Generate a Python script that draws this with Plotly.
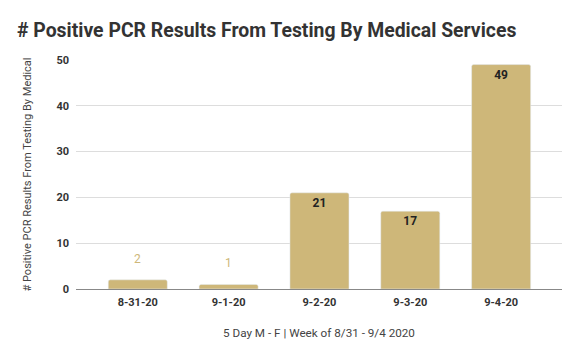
import plotly.graph_objects as go

dates = ["8-31-20", "9-1-20", "9-2-20", "9-3-20", "9-4-20"]
positives = [2, 1, 21, 17, 49]
y_ticks = [0, 10, 20, 30, 40, 50]

GOLD = "#CEB779"
INSIDE_MIN = 5

# page body has an 8px default margin; size the figure to fit the window
W, H = 572, 351

fig = go.Figure()
fig.add_trace(go.Bar(
    x=dates, y=positives, marker_color=GOLD, width=0.65,
    marker=dict(cornerradius=2),
    text=[str(v) if v >= INSIDE_MIN else "" for v in positives],
    textposition="inside", insidetextanchor="end",
    textfont=dict(family="Roboto", size=12, color="#222222", weight="bold"),
    hoverinfo="skip",
))
for d, v in zip(dates, positives):
    if v < INSIDE_MIN:
        fig.add_annotation(x=d, y=v, text=str(v), showarrow=False,
                           yanchor="bottom", yshift=12,
                           font=dict(family="Roboto", size=12, color=GOLD))

fig.update_layout(
    width=W, height=H,
    margin=dict(l=68, r=18, t=52, b=70),
    plot_bgcolor="white", paper_bgcolor="white",
    showlegend=False,
    title=dict(text="<b># Positive PCR Results From Testing By Medical Services</b>",
               x=9/W, xanchor="left", y=1-22/H, yanchor="middle",
               font=dict(family="Roboto", size=19.4, color="#333333")),
    font=dict(family="Roboto", color="#333333"),
)
fig.update_xaxes(
    range=[-0.68, 4.67], showgrid=False, ticks="", ticklabelstandoff=5,
    tickfont=dict(family="Roboto", size=11, color="#333333", weight="bold"),
    title=dict(text="5 Day M - F | Week of 8/31 - 9/4 2020",
               font=dict(family="Roboto", size=11.7, color="#444444"), standoff=20),
    showline=False,
)
fig.update_yaxes(
    range=[0, 50], tickvals=y_ticks, showgrid=True, gridcolor="#DDDDDD", gridwidth=1,
    zeroline=True, zerolinecolor="#888888", zerolinewidth=1,
    tickfont=dict(family="Roboto", size=11, color="#333333", weight="bold"),
    ticks="", ticklabelstandoff=6,
    title=dict(text="# Positive PCR Results From Testing By Medical",
               font=dict(family="Roboto", size=11, color="#444444"), standoff=22),
)
fig.write_html("out.html")
